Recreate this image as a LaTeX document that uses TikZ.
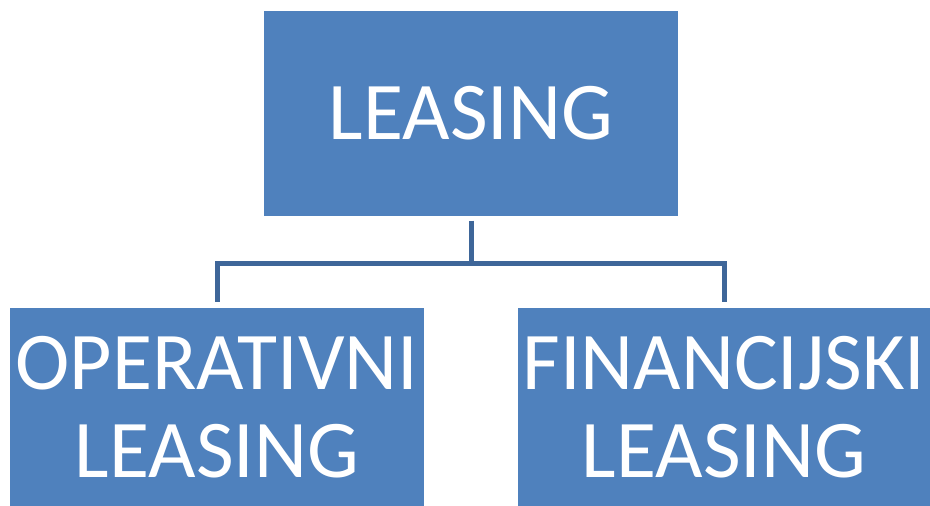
\documentclass[tikz,border=0pt]{standalone}
\usepackage{fontspec}
\setmainfont{Carlito}
\definecolor{boxblue}{HTML}{4F81BD}
\definecolor{lineblue}{HTML}{3E6699}
\begin{document}
\begin{tikzpicture}[x=1pt,y=-1pt,
  box/.style={fill=boxblue,draw=none,inner sep=0pt,text=white,align=center,
    font=\fontsize{82}{88}\selectfont},
  conn/.style={draw=lineblue,line width=5pt}]
\useasboundingbox (0,0) rectangle (930,506);
\node[box,minimum width=414pt,minimum height=205pt] (top) at (471,113) {LEASING};
\node[box,minimum width=414pt,minimum height=198pt] (op) at (217,407) {OPERATIVNI\\LEASING};
\node[box,minimum width=412pt,minimum height=198pt] (fin) at (724,407) {FINANCIJSKI\\LEASING};
\coordinate (mid) at (471,263);
\draw[conn,shorten <=5pt] (top.south) -- (mid);
\draw[conn,shorten >=6pt] (mid) -| (op.north);
\draw[conn,shorten >=6pt] (mid) -| (fin.north);
\end{tikzpicture}
\end{document}
